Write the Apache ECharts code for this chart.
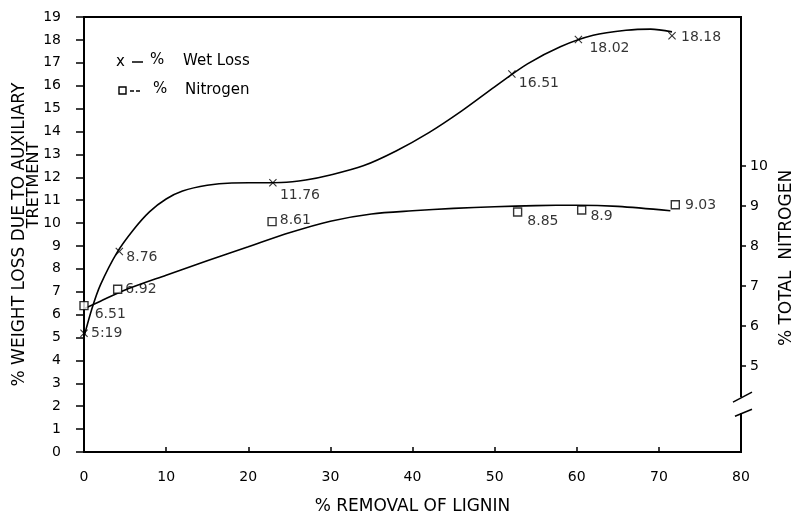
<!DOCTYPE html>
<html><head><meta charset="utf-8">
<script src="https://cdn.jsdelivr.net/npm/echarts@6/dist/echarts.min.js"></script>
<style>html,body{margin:0;padding:0;background:#fff}#c{width:797px;height:516px}</style>
</head><body><div id="c"></div>
<script>
// ---- data ----
const xTicks = [0, 10, 20, 30, 40, 50, 60, 70, 80];
const leftTicks = [0,1,2,3,4,5,6,7,8,9,10,11,12,13,14,15,16,17,18,19];
const rightTicks = [5, 6, 7, 8, 9, 10];

const wetX = [0, 4.3, 23.0, 52.1, 60.2, 71.6];
const wetY = [5.19, 8.76, 11.76, 16.51, 18.02, 18.18];
const wetLabels = ['5:19', '8.76', '11.76', '16.51', '18.02', '18.18'];

const nitroX = [0, 4.1, 22.9, 52.8, 60.6, 72.0];
const nitroY = [6.51, 6.92, 8.61, 8.85, 8.9, 9.03];
const nitroLabels = ['6.51', '6.92', '8.61', '8.85', '8.9', '9.03'];

// hand-drawn fitted curves
const wetCurveX = [0, 1, 2, 4, 6, 8, 10, 12, 15, 18, 21, 24, 27, 30, 34, 38, 42, 46, 50, 54, 58, 62, 66, 69, 71.6];
const wetCurveY = [5.03, 6.3, 7.3, 8.7, 9.7, 10.5, 11.05, 11.4, 11.65, 11.75, 11.76, 11.77, 11.88, 12.1, 12.5, 13.15, 13.95, 14.9, 15.95, 16.95, 17.7, 18.2, 18.42, 18.47, 18.35];
const nitroCurveX = [0, 2, 5, 10, 15, 20, 25, 30, 35, 40, 45, 50, 55, 60, 65, 71.4];
const nitroCurveY = [6.43, 6.62, 6.9, 7.27, 7.63, 7.98, 8.33, 8.62, 8.8, 8.88, 8.94, 8.98, 9.01, 9.02, 8.99, 8.88];

// ---- styling (not data) ----
const FONT = 'DejaVu Sans';
const wetLabelOffset = [[0, 0], [0, 6], [0, 13], [0, 9], [4, 9], [2, 2]];
const nitroLabelOffset = [[3, 9], [0, 0], [0, -1], [2, 9], [1, 6], [2, 1]];
const crossPath = 'path://M0,1L1,0L5,4L9,0L10,1L6,5L10,9L9,10L5,6L1,10L0,9L4,5Z';
const rightMin = 2.85, rightMax = 13.725;
const breakLow = 3.82, breakHigh = 4.22;

const chart = echarts.init(document.getElementById('c'), null, {renderer: 'canvas'});
const txt = {color: '#000', fontFamily: FONT, fontSize: 14};

const option = {
  backgroundColor: '#fff',
  animation: false,
  grid: {left: 84, right: 56, top: 17, bottom: 64, outerBoundsMode: 'none', containLabel: false,
         show: true, borderColor: '#000', borderWidth: 2, backgroundColor: 'transparent'},
  xAxis: {
    type: 'value', min: 0, max: 80, interval: 10,
    name: '% REMOVAL OF LIGNIN', nameLocation: 'middle', nameGap: 46,
    nameTextStyle: Object.assign({}, txt, {fontSize: 17}),
    axisLine: {show: true, lineStyle: {color: '#000', width: 2}},
    axisTick: {show: true, inside: true, length: 5, lineStyle: {color: '#000', width: 1.5}},
    axisLabel: Object.assign({margin: 18, customValues: xTicks}, txt),
    splitLine: {show: false}
  },
  yAxis: [{
    type: 'value', min: 0, max: 19, interval: 1, position: 'left',
    name: '% WEIGHT LOSS DUE TO AUXILIARY', nameLocation: 'middle', nameGap: 56, nameRotate: 90,
    nameTextStyle: Object.assign({}, txt, {fontSize: 17}),
    axisLine: {show: true, lineStyle: {color: '#000', width: 2}},
    axisTick: {show: true, length: 8, lineStyle: {color: '#000', width: 1.5}},
    axisLabel: Object.assign({margin: 23, customValues: leftTicks}, txt),
    splitLine: {show: false}
  }, {
    type: 'value', min: rightMin, max: rightMax, position: 'right',
    axisLine: {show: true, lineStyle: {color: '#000', width: 2}},
    axisTick: {show: true, length: 5, customValues: rightTicks, lineStyle: {color: '#000', width: 1.5}},
    axisLabel: Object.assign({margin: 9, customValues: rightTicks}, txt),
    splitLine: {show: false}
  }],
  series: [{
    name: 'wetCurve', type: 'line', yAxisIndex: 0, smooth: 0.3, symbol: 'none',
    lineStyle: {color: '#000', width: 1.6},
    data: wetCurveX.map((x, i) => [x, wetCurveY[i]]), z: 2
  }, {
    name: 'nitroCurve', type: 'line', yAxisIndex: 1, smooth: 0.3, symbol: 'none',
    lineStyle: {color: '#000', width: 1.6},
    data: nitroCurveX.map((x, i) => [x, nitroCurveY[i]]), z: 2
  }, {
    name: '% Wet Loss', type: 'scatter', yAxisIndex: 0, symbol: crossPath, symbolSize: 8,
    itemStyle: {color: '#000'},
    data: wetX.map((x, i) => ({
      value: [x, wetY[i]],
      label: {show: true, position: 'right', distance: 3, offset: wetLabelOffset[i], formatter: wetLabels[i]}
    })),
    label: Object.assign({}, txt), z: 3
  }, {
    name: '% Nitrogen', type: 'scatter', yAxisIndex: 1, symbol: 'rect', symbolSize: 8,
    itemStyle: {color: '#fff', borderColor: '#000', borderWidth: 1.4},
    data: nitroX.map((x, i) => ({
      value: [x, nitroY[i]],
      label: {show: true, position: 'right', distance: 3, offset: nitroLabelOffset[i], formatter: nitroLabels[i]}
    })),
    label: Object.assign({}, txt), z: 3
  }]
};
chart.setOption(option);

// legend, extra title lines and axis break drawn as graphics
const rx = chart.convertToPixel({xAxisIndex: 0}, 80);
const yLo = chart.convertToPixel({yAxisIndex: 1}, breakLow);
const yHi = chart.convertToPixel({yAxisIndex: 1}, breakHigh);
const lg = {fill: '#000', font: '15px "' + FONT + '"'};
const ttl = {fill: '#000', font: '16px "' + FONT + '"', align: 'center', verticalAlign: 'middle'};
chart.setOption({graphic: [
  {type: 'rect', shape: {x: rx - 3, y: yHi, width: 6, height: yLo - yHi}, style: {fill: '#fff'}, z: 100},
  {type: 'line', shape: {x1: rx - 8, y1: yHi + 5, x2: rx + 11, y2: yHi - 5}, style: {stroke: '#000', lineWidth: 1.5}, z: 101},
  {type: 'line', shape: {x1: rx - 6, y1: yLo + 3, x2: rx + 11, y2: yLo - 4}, style: {stroke: '#000', lineWidth: 1.5}, z: 101},
  // second line of the left title and the right title
  {type: 'text', x: 34, y: 185, rotation: Math.PI / 2, style: Object.assign({text: 'TRETMENT'}, ttl), z: 100},
  {type: 'text', x: 787, y: 258, rotation: Math.PI / 2, style: Object.assign({text: '% TOTAL  NITROGEN'}, ttl, {font: '17px "' + FONT + '"'}), z: 100},
  // legend row 1
  {type: 'text', x: 116, y: 62, style: Object.assign({text: 'x', verticalAlign: 'middle'}, lg), z: 100},
  {type: 'line', shape: {x1: 132, y1: 62, x2: 143, y2: 62}, style: {stroke: '#000', lineWidth: 1.5}, z: 100},
  {type: 'text', x: 150, y: 60, style: Object.assign({text: '%', verticalAlign: 'middle'}, lg), z: 100},
  {type: 'text', x: 183, y: 61, style: Object.assign({text: 'Wet Loss', verticalAlign: 'middle'}, lg), z: 100},
  // legend row 2
  {type: 'rect', shape: {x: 119, y: 87, width: 7, height: 7}, style: {fill: '#fff', stroke: '#000', lineWidth: 1.4}, z: 100},
  {type: 'line', shape: {x1: 130, y1: 91, x2: 142, y2: 91}, style: {stroke: '#000', lineWidth: 1.5, lineDash: [4, 2]}, z: 100},
  {type: 'text', x: 153, y: 89, style: Object.assign({text: '%', verticalAlign: 'middle'}, lg), z: 100},
  {type: 'text', x: 185, y: 90, style: Object.assign({text: 'Nitrogen', verticalAlign: 'middle'}, lg), z: 100}
]});
</script>
</body></html>
